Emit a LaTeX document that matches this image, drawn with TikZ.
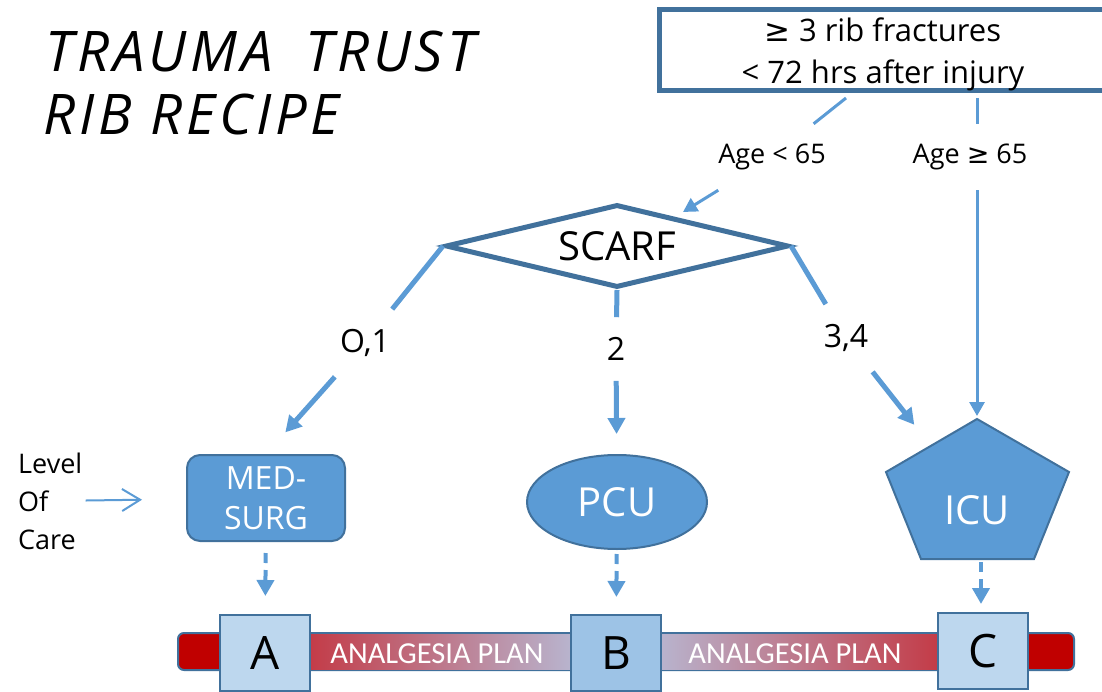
\documentclass[tikz,border=0pt]{standalone}
\usepackage{fontspec}
\setmainfont{Open Sans}
\newfontfamily\calfont{Carlito}
\newfontfamily\symfont{DejaVu Sans}
\newfontfamily\titlefont[LetterSpace=7]{Open Sans}
\usetikzlibrary{shapes,arrows.meta,positioning,calc}

\definecolor{darkline}{RGB}{65,113,156}
\definecolor{lightline}{RGB}{91,155,213}
\definecolor{boxfill}{RGB}{189,215,238}
\definecolor{boxfillb}{RGB}{157,195,230}
\definecolor{barred}{RGB}{192,0,0}
\definecolor{barmid}{RGB}{195,60,72}
\definecolor{barlight}{RGB}{184,180,206}

\tikzset{
  branch/.style={draw=lightline, line width=5pt},
  branch arrow/.style={branch, -{Triangle[length=16pt,width=17pt]}},
  age line/.style={draw=lightline, line width=3pt},
  age arrow/.style={age line, -{Triangle[length=14pt,width=15pt]}},
  dash arrow/.style={draw=lightline, line width=4pt, dash pattern=on 10pt off 7pt, -{Triangle[length=16pt,width=17pt]}},
  gaplabel/.style={inner xsep=6pt, inner ysep=20pt},
  care/.style={fill=lightline, draw=darkline, line width=2pt, text=white},
  letterbox/.style={draw=darkline, line width=2pt, fill=boxfill, minimum width=90pt, minimum height=76pt, font=\fontsize{46}{50}\selectfont},
  plantext/.style={text=white, font=\calfont\fontsize{30.5}{32}\selectfont}
}

\begin{document}
\begin{tikzpicture}[x=1pt, y=-1pt]
    \useasboundingbox (0,0) rectangle (1102,692);

    % Title
    \node[anchor=base west, font=\titlefont\itshape\fontsize{56}{60}\selectfont] (title1) at (42,72) {TRAUMA\hspace{14pt} TRUST};
    \node[anchor=base west, font=\titlefont\itshape\fontsize{56}{60}\selectfont] (title2) at (40,135) {RIB RECIPE};

    % Entry criteria
    \node[draw=darkline, line width=5pt, minimum width=447pt, minimum height=81pt, inner ysep=0pt, align=center, font=\fontsize{31}{42}\selectfont] (criteria) at (883,50) {\rule{0pt}{32pt}{\symfont ≥} 3 rib fractures\\< 72 hrs after injury};
    \coordinate (critL) at (846,98);
    \coordinate (critR) at (977,98);

    % Age split
    \node[gaplabel, font=\fontsize{27}{30}\selectfont] (young) at (772,157) {Age < 65};
    \node[gaplabel, font=\fontsize{27}{30}\selectfont] (old) at (970,157) {Age {\symfont ≥} 65};
    \coordinate (youngend) at (683,212);

    \draw[age line] (critL) -- (young);
    \draw[age arrow] (young) -- (youngend);
    \draw[age line] (critR) -- (critR |- old.north);

    % SCARF score
    \node[diamond, aspect=4.1, draw=darkline, line width=5pt, fill=white, minimum width=343pt, minimum height=83pt, inner sep=0pt, font=\fontsize{40}{44}\selectfont] (scarf) at (617,246) {SCARF};

    \node[gaplabel, font=\fontsize{32}{36}\selectfont] (lowrisk) at (365,343) {O,1};
    \node[gaplabel, font=\fontsize{32}{36}\selectfont] (midrisk) at (616,349) {2};
    \node[gaplabel, font=\fontsize{32}{36}\selectfont] (highrisk) at (846,338) {3,4};

    % Level of care
    \node[align=left, anchor=west, inner sep=3pt, font=\fontsize{27}{38}\selectfont] (level) at (15,501) {Level\\Of\\Care};
    \node[care, rounded corners=13pt, minimum width=158pt, minimum height=86pt, align=center, font=\fontsize{32}{40}\selectfont] (medsurg) at (266,498) {MED-\\SURG};
    \node[care, ellipse, minimum width=180pt, minimum height=94pt, font=\fontsize{40}{44}\selectfont] (pcu) at (617,502) {PCU};
    \filldraw[care] (977,419) coordinate (icutop) -- (1069,472) -- (1034,559) -- (921,559) -- (886,472) -- cycle;
    \coordinate (icuedge) at (931,446);
    \coordinate (icubottom) at (981,559);
    \node[text=white, font=\fontsize{40}{44}\selectfont] (icu) at (977,510) {ICU};

    \draw[branch] (scarf.west) -- (lowrisk);
    \draw[branch arrow, shorten >=29pt] (lowrisk) -- (medsurg.north);
    \draw[branch] (scarf.south) -- (midrisk);
    \draw[branch arrow, shorten >=20pt] (midrisk) -- (pcu);
    \draw[branch] (scarf.east) -- (highrisk);
    \draw[branch arrow, shorten >=27pt] (highrisk) -- (icuedge);
    \draw[age arrow, shorten >=3pt] (critR |- old.south) -- (icutop);
    \draw[lightline, line width=2pt, -{Straight Barb[length=18pt,width=22pt]}, shorten >=44pt] (level) -- (medsurg);

    % Analgesia plan bar
    \draw[draw=darkline, line width=2pt, fill=barred, rounded corners=6pt] (178,633) rectangle (1074,670);
    \shade[left color=barmid, right color=barlight] (310,634) rectangle (571,669);
    \shade[left color=barlight, right color=barmid] (659,634) rectangle (937,669);
    \node[plantext] (plan1) at (437,654) {ANALGESIA PLAN};
    \node[plantext] (plan2) at (795,654) {ANALGESIA PLAN};

    \node[letterbox] (boxA) at (265,653) {A};
    \node[letterbox, fill=boxfillb] (boxB) at (616,653) {B};
    \node[letterbox] (boxC) at (983,651) {C};

    \draw[dash arrow, shorten <=11pt, shorten >=18pt] (medsurg) -- (boxA);
    \draw[dash arrow, shorten <=4pt, shorten >=17pt] (pcu) -- (boxB);
    \draw[dash arrow, shorten <=3pt, shorten >=8pt] (icubottom) -- (icubottom |- boxC.north);
\end{tikzpicture}
\end{document}
